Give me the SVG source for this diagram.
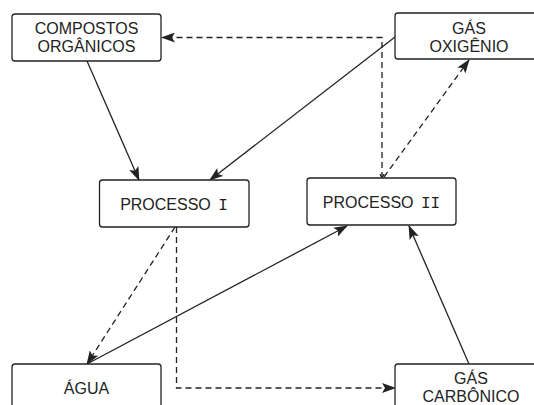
<svg xmlns="http://www.w3.org/2000/svg" width="534" height="405" viewBox="0 0 534 405">
<style>
.box{fill:#fff;stroke:#222;stroke-width:1.3}
.t{font-family:"Liberation Sans",Arial,sans-serif;font-size:16px;fill:#222;text-anchor:middle}
.m{font-family:"Liberation Mono","Courier New",monospace}
.c{fill:none;stroke:#222;stroke-width:1.3}
.d{stroke-dasharray:6 4}
</style>
<defs>
<marker id="ah" markerUnits="userSpaceOnUse" markerWidth="14" markerHeight="10" viewBox="0 0 14 10" refX="13" refY="5" orient="auto">
<path d="M0,0 L14,5 L0,10 L3,5 Z" fill="#222"/>
</marker>
</defs>
<rect width="534" height="405" fill="#fff"/>
<g id="connectors">
<line class="c" x1="87" y1="61" x2="139" y2="180" marker-end="url(#ah)"/>
<line class="c" x1="395" y1="37" x2="210" y2="180" marker-end="url(#ah)"/>
<polyline class="c d" points="382,178 382,37.5 162,37.5" marker-end="url(#ah)"/>
<polyline class="c" points="380,174 382,178 384,174" stroke-width="1"/>
<line class="c d" x1="384" y1="177" x2="469" y2="60" marker-end="url(#ah)"/>
<line class="c d" x1="175" y1="227" x2="87" y2="364" marker-end="url(#ah)"/>
<polyline class="c d" points="176.5,227 176.5,388 395,388" marker-end="url(#ah)"/>
<line class="c" x1="87" y1="364" x2="347" y2="226" marker-end="url(#ah)"/>
<line class="c" x1="469" y1="364" x2="409" y2="226" marker-end="url(#ah)"/>
</g>
<g id="compostos">
<rect class="box" x="12" y="14" width="149" height="47" rx="3"/>
<text class="t" x="86.5" y="34">COMPOSTOS</text>
<text class="t" x="86.5" y="52">ORGÂNICOS</text>
</g>
<g id="oxigenio">
<rect class="box" x="395" y="13" width="149" height="46" rx="3"/>
<text class="t" x="469" y="34">GÁS</text>
<text class="t" x="469" y="52">OXIGÊNIO</text>
</g>
<g id="processo1">
<rect class="box" x="99.5" y="180" width="149.5" height="47" rx="3"/>
<text class="t" x="174" y="210">PROCESSO <tspan class="m" dx="3">I</tspan></text>
</g>
<g id="processo2">
<rect class="box" x="307" y="178" width="149" height="47" rx="3"/>
<text class="t" x="381.5" y="208">PROCESSO <tspan class="m" dx="3">II</tspan></text>
</g>
<g id="agua">
<rect class="box" x="12" y="364" width="149" height="50" rx="3"/>
<text class="t" x="86.5" y="394">ÁGUA</text>
</g>
<g id="carbonico">
<rect class="box" x="395" y="364" width="149" height="50" rx="3"/>
<text class="t" x="471" y="384">GÁS</text>
<text class="t" x="471" y="402">CARBÔNICO</text>
</g>
</svg>
